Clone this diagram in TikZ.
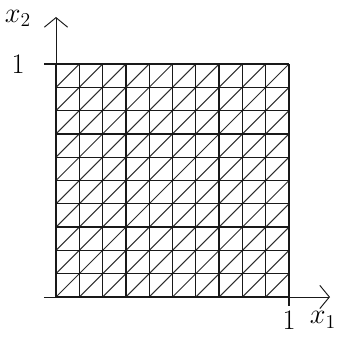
\documentclass[tikz,border=0pt]{standalone}
\usepackage{amsmath,amssymb}
\usepackage{tikz}
\usetikzlibrary{arrows.meta,calc,positioning}
\definecolor{meshInk}{RGB}{25,25,25}
\definecolor{diagInk}{RGB}{45,45,45}
\tikzset{
  meshline/.style={draw=meshInk,line width=0.9pt},
  diagline/.style={draw=diagInk,line width=0.75pt},
  axisline/.style={draw=meshInk,line width=0.7pt,-{Straight Barb[length=7pt,width=17pt]}},
  ticklabel/.style={font=\huge,inner sep=0pt}
}

\begin{document}
\begin{tikzpicture}[x=6cm,y=6cm]
  \useasboundingbox (-0.2403,-0.1717) rectangle (1.2318,1.2747);
  % triangulated unit square
  \foreach \i in {0,...,9}{
    \foreach \j in {0,...,9}{
      \draw[diagline] (\i/10,\j/10)--({(\i+1)/10},{(\j+1)/10});
    }
  }
  \foreach \k in {0,...,10}{
    \draw[meshline] (\k/10,0)--(\k/10,1);
    \draw[meshline] (0,\k/10)--(1,\k/10);
  }
  % axes
  \coordinate (xstart) at (-0.0515,0);
  \coordinate (xend) at (1.176,0);
  \coordinate (ystart) at (0,0);
  \coordinate (yend) at (0,1.2017);
  \draw[axisline] (xstart)--(xend);
  \draw[axisline] (ystart)--(yend);
  \draw[meshline] (1,0)--(1,-0.039);
  \draw[meshline] (0,1)--(-0.0515,1);
  % labels
  \node[ticklabel] (oneY) at (-0.163,1) {$1$};
  \node[ticklabel] (labY) at (-0.163,1.197) {$x_2$};
  \node[ticklabel] (oneX) at (1,-0.0987) {$1$};
  \node[ticklabel] (labX) at (1.146,-0.0987) {$x_1$};
\end{tikzpicture}
\end{document}
